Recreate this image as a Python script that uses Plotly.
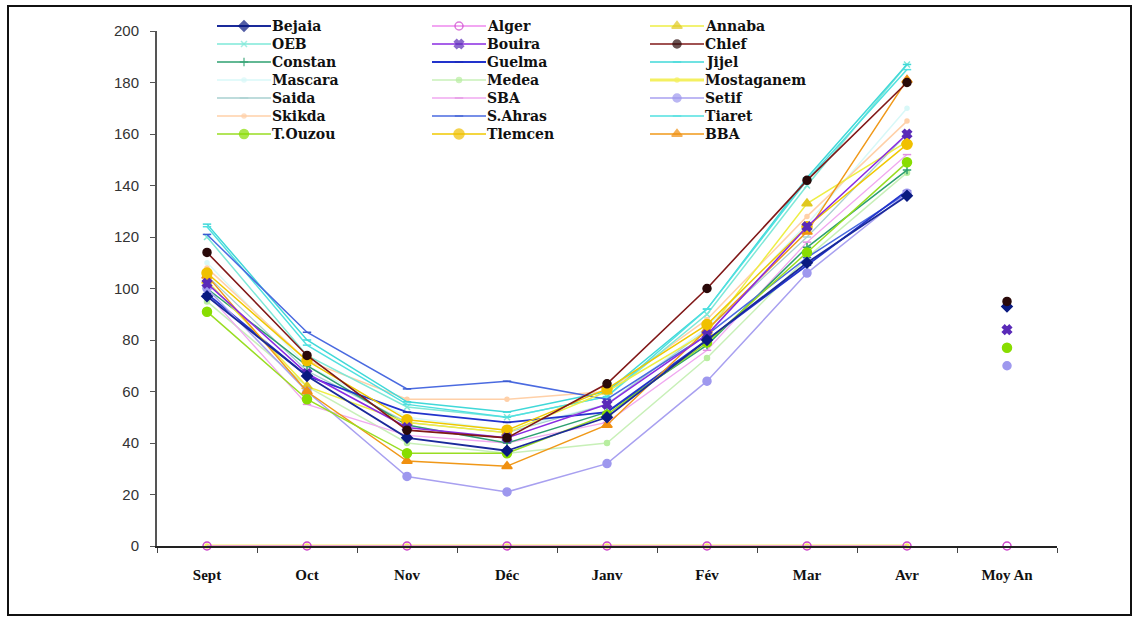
import plotly.graph_objects as go

months = ["Sept", "Oct", "Nov", "Déc", "Janv", "Fév", "Mar", "Avr", "Moy An"]

N = None
bejaia     = [97, 66, 42, 37, 50, 80, 110, 136, 93]
alger      = [0, 0, 0, 0, 0, 0, 0, 0, 0]
annaba     = [103, 62, 48, 44, 60, 83, 133, 157, N]
oeb        = [120, 74, 54, 50, 58, 90, 140, 187, N]
bouira     = [102, 67, 46, 42, 55, 82, 124, 160, 84]
chlef      = [114, 74, 45, 42, 63, 100, 142, 180, 95]
constan    = [100, 70, 47, 40, 52, 78, 116, 146, N]
guelma     = [98, 66, 52, 48, 52, 80, 109, 138, N]
jijel      = [125, 80, 56, 52, 60, 92, 143, 187, N]
mascara    = [110, 70, 50, 45, 55, 85, 125, 170, N]
medea      = [95, 62, 40, 36, 40, 73, 112, 145, N]
mostaganem = [0, 0, 0, 0, 0, 0, 0, 0, N]
saida      = [105, 68, 48, 44, 55, 84, 120, 160, N]
sba        = [98, 55, 43, 40, 48, 76, 118, 152, N]
setif      = [100, 60, 27, 21, 32, 64, 106, 137, 70]
skikda     = [108, 72, 57, 57, 60, 88, 128, 165, N]
sahras     = [121, 83, 61, 64, 57, 82, 112, 137, N]
tiaret     = [124, 78, 55, 50, 58, 92, 142, 185, N]
touzou     = [91, 57, 36, 36, 51, 79, 114, 149, 77]
tlemcen    = [106, 72, 49, 45, 61, 86, 124, 156, N]
bba        = [105, 60, 33, 31, 47, 84, 122, 181, N]

# (name, values, line color, line width, marker symbol, marker color, marker size)
series = [
    ("Mostaganem", mostaganem, "#f4f060", 3.0, "circle", "#f4f060", 4),
    ("Mascara", mascara, "#d8f8f8", 1.5, "circle", "#d8f8f8", 4),
    ("Skikda", skikda, "#ffd0a8", 1.5, "circle", "#ffd0a8", 4),
    ("Saida", saida, "#a8d0d0", 1.3, "line-ew-open", "#a8d0d0", 6),
    ("Medea", medea, "#c8f0b8", 1.5, "circle", "#b8eea0", 5),
    ("SBA", sba, "#f0a8f0", 1.3, "line-ew-open", "#e090e0", 6),
    ("OEB", oeb, "#7ee8d8", 1.5, "x-thin-open", "#7ee8d8", 6),
    ("Jijel", jijel, "#40d8d8", 1.5, "line-ew-open", "#40d8d8", 6),
    ("Tiaret", tiaret, "#50e0e0", 1.5, "line-ew-open", "#50e0e0", 6),
    ("Constan", constan, "#2ea070", 1.5, "cross-thin-open", "#2ea070", 6),
    ("S.Ahras", sahras, "#4a6ae0", 1.5, "line-ew-open", "#3a5ad0", 6),
    ("Guelma", guelma, "#2233cc", 1.8, "line-ew-open", "#1a2ab0", 6),
    ("Annaba", annaba, "#eeee44", 1.5, "triangle-up", "#e0c820", 9),
    ("Setif", setif, "#a8a0f0", 1.5, "circle", "#9e98ee", 8),
    ("BBA", bba, "#f09818", 1.5, "triangle-up", "#f09010", 9),
    ("Tlemcen", tlemcen, "#f0c800", 1.5, "circle", "#f0c000", 10),
    ("T.Ouzou", touzou, "#99dd22", 1.5, "circle", "#88dd00", 9),
    ("Bouira", bouira, "#8a2be2", 1.6, "x", "#5a2ab8", 8),
    ("Bejaia", bejaia, "#1a2a9a", 1.8, "diamond", "#0a1a80", 8),
    ("Chlef", chlef, "#801818", 1.6, "circle", "#2a0a0a", 8),
    ("Alger", alger, "#ee88ee", 1.3, "circle-open", "#cc44cc", 8),
]

legend_order = [
    ["Bejaia", "OEB", "Constan", "Mascara", "Saida", "Skikda", "T.Ouzou"],
    ["Alger", "Bouira", "Guelma", "Medea", "SBA", "S.Ahras", "Tlemcen"],
    ["Annaba", "Chlef", "Jijel", "Mostaganem", "Setif", "Tiaret", "BBA"],
]

# page layout in pixels
L, R, T, B = 157, 1057, 5, 546
W, H = R - L, B - T
plot_top = 31

fig = go.Figure()
lookup = {}
for name, vals, lc, lw, sym, mc, ms in series:
    lookup[name] = (lc, lw, sym, mc, ms)
    fig.add_trace(go.Scatter(
        x=months[:8], y=vals[:8], name=name, mode="lines+markers",
        line=dict(color=lc, width=lw),
        marker=dict(symbol=sym, color=mc, size=ms, line=dict(color=mc, width=1.5)),
        showlegend=False, cliponaxis=False,
    ))
for name, vals, lc, lw, sym, mc, ms in series:
    if vals[8] is not None:
        fig.add_trace(go.Scatter(
            x=[months[8]], y=[vals[8]], name=name, mode="markers",
            marker=dict(symbol=sym, color=mc, size=ms, line=dict(color=mc, width=1.5)),
            showlegend=False, cliponaxis=False,
        ))

# manual legend in a pixel-based overlay subplot
col_x = [217, 432, 650]
row_y = [26, 44, 62, 80, 98, 116, 134]
seg = 54
annotations = []
for ci, col in enumerate(legend_order):
    for ri, name in enumerate(col):
        lc, lw, sym, mc, ms = lookup[name]
        x0 = col_x[ci] - L
        yv = B - row_y[ri]
        fig.add_trace(go.Scatter(
            x=[x0, x0 + seg / 2, x0 + seg], y=[yv, yv, yv], mode="lines+markers",
            line=dict(color=lc, width=max(lw, 1.5)),
            marker=dict(symbol=sym, color=mc, size=[0, ms, 0], line=dict(color=mc, width=1.5)),
            xaxis="x2", yaxis="y2", showlegend=False, hoverinfo="skip", cliponaxis=False,
        ))
        annotations.append(dict(
            x=x0 + seg - 1, y=yv, xref="x2", yref="y2", text=name, showarrow=False,
            xanchor="left", yanchor="middle",
            font=dict(family="DejaVu Serif", size=14, color="#111111", weight="bold"),
        ))

fig.update_layout(
    width=1138, height=620,
    margin=dict(l=L, r=1138 - R, t=T, b=620 - B, autoexpand=False),
    paper_bgcolor="white", plot_bgcolor="rgba(0,0,0,0)",
    showlegend=False,
    annotations=annotations,
    xaxis=dict(
        domain=[0, 1], anchor="y", automargin=False,
        type="category", categoryorder="array", categoryarray=months,
        range=[-0.5, 8.5], showgrid=False, zeroline=False,
        showline=True, linecolor="#222222", linewidth=2,
        ticks="outside", tickson="boundaries", ticklen=5, tickcolor="#444444",
        ticklabelstandoff=14,
        tickfont=dict(family="Liberation Serif", size=15, color="#111111", weight="bold"),
    ),
    yaxis=dict(
        domain=[0, (B - plot_top) / H], anchor="x", automargin=False,
        range=[0, 200], dtick=20, showgrid=False, zeroline=False,
        showline=True, linecolor="#555555", linewidth=2,
        ticks="outside", ticklen=5, tickcolor="#555555",
        ticklabelstandoff=8,
        tickfont=dict(family="Liberation Sans", size=15, color="#333333"),
    ),
    xaxis2=dict(domain=[0, 1], anchor="y2", range=[0, W], visible=False,
                fixedrange=True, automargin=False),
    yaxis2=dict(domain=[0, 1], anchor="x2", range=[0, H], visible=False,
                fixedrange=True, automargin=False),
    shapes=[dict(type="rect", xref="paper", yref="paper",
                 x0=(8 - L) / W, x1=(1131 - L) / W,
                 y0=(B - 615) / H, y1=(B - 6) / H,
                 line=dict(color="#111111", width=2), fillcolor="rgba(0,0,0,0)",
                 layer="below")],
)

fig.write_html("out.html")
